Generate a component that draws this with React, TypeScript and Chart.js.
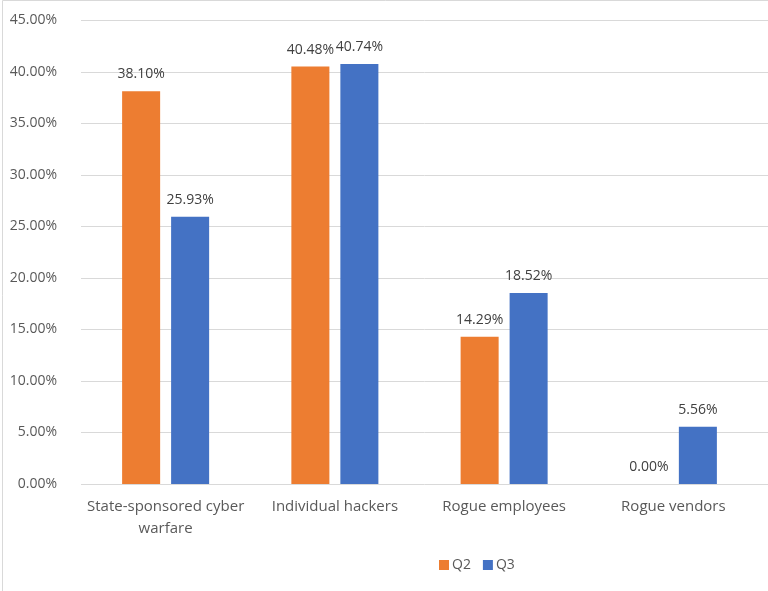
import React, { useEffect, useRef } from "react";
import { Chart, registerables } from "chart.js";

Chart.register(...registerables);

const categories: (string | string[])[] = [
  ["State-sponsored cyber", "warfare"],
  "Individual hackers",
  "Rogue employees",
  "Rogue vendors",
];
const seriesNames = ["Q2", "Q3"];
const q2Values = [38.1, 40.48, 14.29, 0.0];
const q3Values = [25.93, 40.74, 18.52, 5.56];
const seriesColors = ["#ED7D31", "#4472C4"];
const yMax = 45;
const yStep = 5;

const FONT = "'Open Sans', 'Noto Sans', sans-serif";
const FONT_SIZE = 15;
const NUM_SIZE = 14;
const TEXT_COLOR = "#595959";
const LABEL_COLOR = "#404040";
const GRID_COLOR = "#D9D9D9";

const fmt = (v: number) => v.toFixed(2) + "%";

const framePlugin = {
  id: "frame",
  beforeDraw(chart: any) {
    const { ctx, width, height } = chart;
    ctx.save();
    ctx.fillStyle = "#ffffff";
    ctx.fillRect(0, 0, width, height);
    ctx.strokeStyle = GRID_COLOR;
    ctx.lineWidth = 1;
    ctx.beginPath();
    ctx.moveTo(2.5, height);
    ctx.lineTo(2.5, 0.5);
    ctx.lineTo(width, 0.5);
    ctx.stroke();
    ctx.restore();
  },
  beforeDatasetsDraw(chart: any) {
    const { ctx, width } = chart;
    const y = chart.scales.y;
    ctx.save();
    ctx.strokeStyle = GRID_COLOR;
    ctx.lineWidth = 1;
    y.ticks.forEach((t: any) => {
      const py = Math.round(y.getPixelForValue(t.value)) + 0.5;
      ctx.beginPath();
      ctx.moveTo(chart.chartArea.left, py);
      ctx.lineTo(width, py);
      ctx.stroke();
    });
    ctx.restore();
  },
};

const dataLabelPlugin = {
  id: "dataLabels",
  afterDatasetsDraw(chart: any) {
    const { ctx } = chart;
    ctx.save();
    ctx.font = `${NUM_SIZE}px ${FONT}`;
    ctx.fillStyle = LABEL_COLOR;
    ctx.textAlign = "center";
    ctx.textBaseline = "alphabetic";
    chart.data.datasets.forEach((ds: any, i: number) => {
      const meta = chart.getDatasetMeta(i);
      meta.data.forEach((bar: any, j: number) => {
        ctx.fillText(fmt(ds.data[j]), bar.x, bar.y - 13);
      });
    });
    ctx.restore();
  },
};

const legendPlugin = {
  id: "customLegend",
  afterDraw(chart: any) {
    const { ctx } = chart;
    ctx.save();
    ctx.font = `${NUM_SIZE}px ${FONT}`;
    ctx.textBaseline = "middle";
    ctx.textAlign = "left";
    let x = 439;
    const cy = 565;
    chart.data.datasets.forEach((ds: any) => {
      ctx.fillStyle = ds.backgroundColor;
      ctx.fillRect(x, cy - 5, 10, 10);
      x += 13;
      ctx.fillStyle = TEXT_COLOR;
      ctx.fillText(ds.label, x, cy);
      x += ctx.measureText(ds.label).width + 12;
    });
    ctx.restore();
  },
};

export default function App() {
  const ref = useRef<HTMLCanvasElement | null>(null);

  useEffect(() => {
    document.body.style.margin = "0";
    const canvas = ref.current;
    if (!canvas) return;
    const chart = new Chart(canvas, {
      type: "bar",
      data: {
        labels: categories,
        datasets: [
          {
            label: seriesNames[0],
            data: q2Values,
            backgroundColor: seriesColors[0],
            categoryPercentage: 0.579,
            barPercentage: 0.776,
          },
          {
            label: seriesNames[1],
            data: q3Values,
            backgroundColor: seriesColors[1],
            categoryPercentage: 0.579,
            barPercentage: 0.776,
          },
        ],
      },
      options: {
        responsive: false,
        animation: false,
        devicePixelRatio: 1,
        layout: { padding: { top: 20, right: 10, left: 0, bottom: 0 } },
        plugins: {
          legend: { display: false },
          tooltip: { enabled: false },
        },
        scales: {
          x: {
            grid: { display: false },
            border: { display: false },
            ticks: {
              color: TEXT_COLOR,
              font: { family: FONT, size: FONT_SIZE, lineHeight: 1.45 },
              padding: 4,
              maxRotation: 0,
              autoSkip: false,
            },
            afterFit: (s: any) => {
              s.height = 107;
              s.paddingLeft = 0;
              s.paddingRight = 0;
            },
          },
          y: {
            min: 0,
            max: yMax,
            grid: { display: false },
            border: { display: false },
            ticks: {
              stepSize: yStep,
              color: TEXT_COLOR,
              font: { family: FONT, size: NUM_SIZE },
              padding: 16,
              callback: (v: any) => fmt(Number(v)),
            },
            afterFit: (s: any) => {
              s.width = 81;
              s.paddingTop = 0;
              s.paddingBottom = 0;
            },
          },
        },
      },
      plugins: [framePlugin, dataLabelPlugin, legendPlugin],
    });
    return () => chart.destroy();
  }, []);

  return (
    <div style={{ width: 768, height: 591 }}>
      <canvas ref={ref} width={768} height={591} />
    </div>
  );
}
